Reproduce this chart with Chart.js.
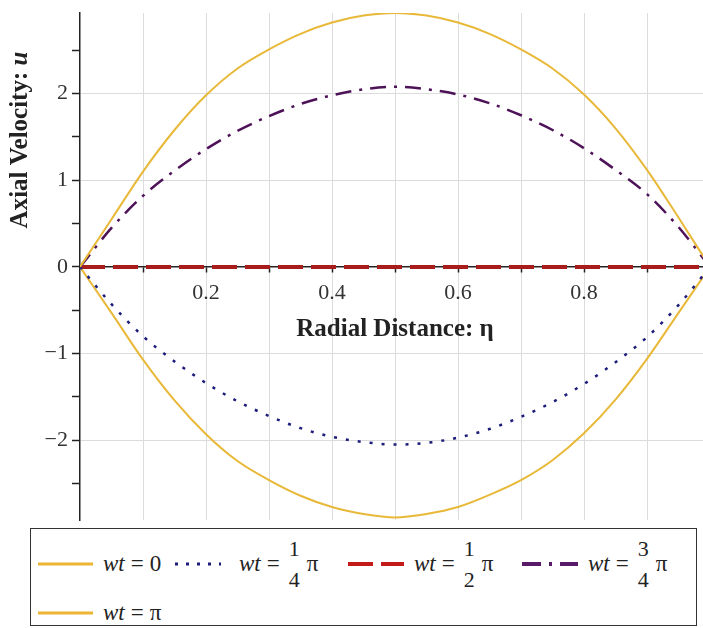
<!DOCTYPE html>
<html>
<head>
<meta charset="utf-8">
<script src="https://cdn.jsdelivr.net/npm/chart.js@4.4.0/dist/chart.umd.min.js"></script>
<style>
  html, body { margin: 0; padding: 0; overflow: hidden; background: #fff; }
  #wrap { position: relative; width: 703px; height: 628px; overflow: hidden; }
  #plot { position: absolute; left: 0; top: 0; }
  #legend {
    position: absolute; left: 30px; top: 528px; width: 667px; height: 98px;
    border: 1.5px solid #333; box-sizing: border-box;
    font-family: 'Liberation Serif', serif; font-size: 23px; color: #222;
  }
  .item { position: absolute; height: 40px; display: flex; align-items: center; white-space: nowrap; }
  .eq { margin: 0 6px; }
  .frac { display: inline-flex; flex-direction: column; align-items: center; font-size: 22px; line-height: 31px; margin: 0 7px 0 3px; }
</style>
</head>
<body>
<div id="wrap">
  <canvas id="plot" width="712" height="524" style="width:712px;height:524px"></canvas>
  <div id="legend">
    <div class="item" style="left:7px;top:15px">
      <svg width="55" height="6"><line x1="0" y1="3" x2="55" y2="3" stroke="#eeb534" stroke-width="3"/></svg>
    </div>
    <div class="item" style="left:72px;top:15px"><i>wt</i><span class="eq">=</span>0</div>
    <div class="item" style="left:142px;top:15px">
      <svg width="48" height="6"><line x1="2" y1="3" x2="48" y2="3" stroke="#1c1c7a" stroke-width="3" stroke-dasharray="3 8"/></svg>
    </div>
    <div class="item" style="left:208px;top:15px"><i>wt</i><span class="eq">=</span><span class="frac"><span>1</span><span>4</span></span>π</div>
    <div class="item" style="left:317px;top:15px">
      <svg width="56" height="6"><line x1="0" y1="3" x2="56" y2="3" stroke="#c41a1a" stroke-width="4" stroke-dasharray="25 8"/></svg>
    </div>
    <div class="item" style="left:383px;top:15px"><i>wt</i><span class="eq">=</span><span class="frac"><span>1</span><span>2</span></span>π</div>
    <div class="item" style="left:491px;top:15px">
      <svg width="56" height="6"><line x1="0" y1="3" x2="56" y2="3" stroke="#5a1a6a" stroke-width="4" stroke-dasharray="19 8 3 8"/></svg>
    </div>
    <div class="item" style="left:557px;top:15px"><i>wt</i><span class="eq">=</span><span class="frac"><span>3</span><span>4</span></span>π</div>
    <div class="item" style="left:7px;top:64px">
      <svg width="55" height="6"><line x1="0" y1="3" x2="55" y2="3" stroke="#eeb534" stroke-width="3"/></svg>
    </div>
    <div class="item" style="left:72px;top:64px"><i>wt</i><span class="eq">=</span>π</div>
  </div>
</div>
<script>
// radial distance samples and axial velocity
const etaValues = [0, 0.05, 0.1, 0.15, 0.2, 0.25, 0.3, 0.35, 0.4, 0.45, 0.5,
                   0.55, 0.6, 0.65, 0.7, 0.75, 0.8, 0.85, 0.9, 0.95, 1];
const uWt0 = [0, 0.55, 1.1, 1.58, 1.98, 2.29, 2.51, 2.69, 2.82, 2.9, 2.93,
              2.9, 2.82, 2.69, 2.51, 2.29, 1.99, 1.6, 1.12, 0.57, 0];
const uWtQuarter = [0, -0.43, -0.8, -1.09, -1.34, -1.55, -1.72, -1.86, -1.96, -2.02, -2.05,
                    -2.03, -1.97, -1.87, -1.73, -1.56, -1.35, -1.1, -0.81, -0.44, 0];
const uWtHalf = [0, 0, 0, 0, 0, 0, 0, 0, 0, 0, 0, 0, 0, 0, 0, 0, 0, 0, 0, 0, 0];
const uWtThreeQuarter = [0, 0.45, 0.82, 1.11, 1.36, 1.57, 1.74, 1.88, 1.98, 2.05, 2.08,
                         2.05, 1.99, 1.89, 1.75, 1.58, 1.37, 1.12, 0.84, 0.46, 0];
const uWtPi = [0, -0.53, -1.07, -1.54, -1.93, -2.24, -2.46, -2.64, -2.77, -2.85, -2.89,
               -2.85, -2.77, -2.63, -2.46, -2.23, -1.92, -1.53, -1.06, -0.53, 0];

const xTickValues = [0.1, 0.2, 0.3, 0.4, 0.5, 0.6, 0.7, 0.8, 0.9];
const xLabelValues = [0.2, 0.4, 0.6, 0.8];
const yTickValues = [-2.5, -2, -1.5, -1, -0.5, 0, 0.5, 1, 1.5, 2, 2.5];
const yLabelValues = [-2, -1, 0, 1, 2];

const serif = "'Liberation Serif', 'Times New Roman', serif";

const toPoints = values => etaValues.map((x, i) => ({ x: x, y: values[i] }));
const near = (list, v) => list.some(l => Math.abs(l - v) < 1e-9);

const yTitlePlugin = {
  id: 'yTitle',
  afterDraw(chart) {
    const ctx = chart.ctx;
    const a = 'Axial Velocity: ';
    const b = 'u';
    ctx.save();
    ctx.translate(21, 140);
    ctx.rotate(-Math.PI / 2);
    ctx.fillStyle = '#222';
    ctx.textBaseline = 'middle';
    ctx.textAlign = 'left';
    ctx.font = 'bold 25px ' + serif;
    const wa = ctx.measureText(a).width;
    ctx.font = 'italic bold 25px ' + serif;
    const wb = ctx.measureText(b).width;
    const start = -(wa + wb) / 2;
    ctx.font = 'bold 25px ' + serif;
    ctx.fillText(a, start, 0);
    ctx.font = 'italic bold 25px ' + serif;
    ctx.fillText(b, start + wa, 0);
    ctx.restore();
  }
};

new Chart(document.getElementById('plot'), {
  type: 'line',
  data: {
    datasets: [
      {
        label: 'wt = 0',
        data: toPoints(uWt0),
        borderColor: '#e8b838',
        borderWidth: 2,
        pointRadius: 0,
        cubicInterpolationMode: 'monotone',
      },
      {
        label: 'wt = π/4',
        data: toPoints(uWtQuarter),
        borderColor: '#1c1c7a',
        borderWidth: 2.5,
        borderDash: [3, 9],
        pointRadius: 0,
        cubicInterpolationMode: 'monotone',
      },
      {
        label: 'wt = 3π/4',
        data: toPoints(uWtThreeQuarter),
        borderColor: '#4e1258',
        borderWidth: 2.5,
        borderDash: [16, 8, 3, 8],
        pointRadius: 0,
        cubicInterpolationMode: 'monotone',
      },
      {
        label: 'wt = π',
        data: toPoints(uWtPi),
        borderColor: '#e8b838',
        borderWidth: 2,
        pointRadius: 0,
        cubicInterpolationMode: 'monotone',
      },
      {
        label: 'wt = π/2',
        data: toPoints(uWtHalf),
        borderColor: '#a81c1c',
        borderWidth: 4,
        borderDash: [25, 8],
        pointRadius: 0,
      },
    ],
  },
  options: {
    responsive: false,
    animation: false,
    layout: { padding: { left: 0, right: 2, top: 13, bottom: 4 } },
    plugins: {
      legend: { display: false },
      tooltip: { enabled: false },
    },
    scales: {
      x: {
        type: 'linear',
        min: 0,
        max: 1,
        position: { y: 0 },
        afterBuildTicks: s => { s.ticks = xTickValues.map(v => ({ value: v })); },
        afterFit: s => { s.paddingLeft = 0; s.paddingRight = 0; },
        grid: { color: '#dcdcdc', lineWidth: 1, tickLength: 5, tickColor: '#222', tickWidth: 1.5 },
        border: { color: '#222', width: 1.5 },
        ticks: {
          autoSkip: false,
          maxRotation: 0,
          padding: 8,
          color: '#333',
          font: { family: serif, size: 22 },
          callback: v => near(xLabelValues, v) ? v.toFixed(1) : '',
        },
        title: {
          display: true,
          text: 'Radial Distance: η',
          color: '#222',
          font: { family: serif, size: 25, weight: 'bold' },
          padding: { top: 0, bottom: 0 },
        },
      },
      y: {
        type: 'linear',
        min: -2.92,
        max: 2.93,
        position: 'left',
        afterBuildTicks: s => { s.ticks = yTickValues.map(v => ({ value: v })); },
        afterFit: s => { s.width = 80; s.paddingTop = 0; s.paddingBottom = 0; },
        grid: {
          color: c => (c.tick && near([-2, -1, 1, 2], c.tick.value)) ? '#dcdcdc' : 'rgba(0,0,0,0)',
          lineWidth: 1,
          tickLength: 8,
          tickColor: '#222',
          tickWidth: 1.5,
        },
        border: { color: '#222', width: 1.5 },
        ticks: {
          padding: 4,
          color: '#333',
          font: { family: serif, size: 22 },
          callback: v => near(yLabelValues, v) ? String(v).replace('-', '\u2212') : '',
        },
      },
    },
  },
  plugins: [yTitlePlugin],
});
</script>
</body>
</html>
